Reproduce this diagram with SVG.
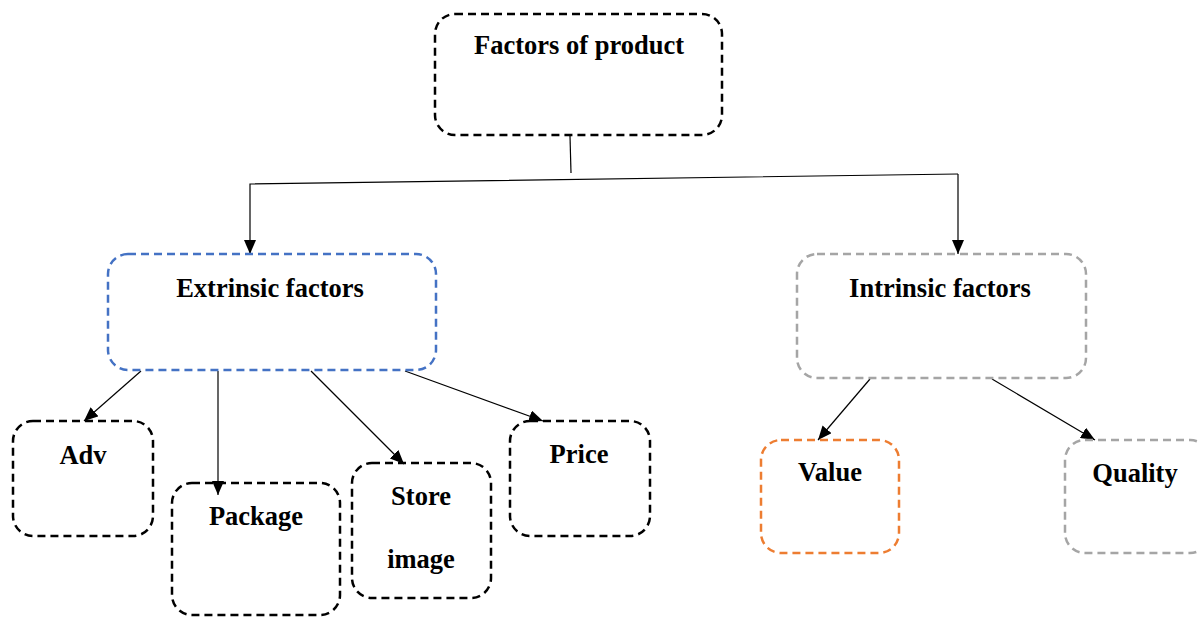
<svg xmlns="http://www.w3.org/2000/svg" width="1198" height="617" viewBox="0 0 1198 617">
<style>
.box{fill:none;stroke-width:2.5;stroke-dasharray:8 5}
.k{stroke:#000}
.b{stroke:#4472C4}
.g{stroke:#A5A5A5}
.o{stroke:#ED7D31}
.t{font-family:"Liberation Serif","Times New Roman",serif;font-weight:bold;font-size:26.5px;fill:#000;text-anchor:middle}
.c{stroke:#000;stroke-width:1.2;fill:none}
</style>
<defs>
<marker id="ah" viewBox="0 0 14 12" refX="14" refY="6" markerWidth="14" markerHeight="12" markerUnits="userSpaceOnUse" orient="auto">
<path d="M0,0 L14,6 L0,12 z" fill="#000"/>
</marker>
</defs>
<rect width="1198" height="617" fill="#fff"/>
<g id="connectors">
<path class="c" d="M570,136 L571,173"/>
<path class="c" d="M958,174 L250,184 L250,254" marker-end="url(#ah)"/>
<path class="c" d="M958,174 L958,254" marker-end="url(#ah)"/>
<path class="c" d="M141,371 L84,421" marker-end="url(#ah)"/>
<path class="c" d="M218,371 L218,495" marker-end="url(#ah)"/>
<path class="c" d="M311,371 L404,464" marker-end="url(#ah)"/>
<path class="c" d="M405,371 L543,421" marker-end="url(#ah)"/>
<path class="c" d="M870,379 L818,440" marker-end="url(#ah)"/>
<path class="c" d="M992,379 L1095,440" marker-end="url(#ah)"/>
</g>
<g id="factors">
<rect class="box k" x="435" y="14" width="287" height="121" rx="20"/>
<text class="t" x="579" y="54">Factors of product</text>
</g>
<g id="extrinsic">
<rect class="box b" x="108" y="254" width="328" height="116" rx="20"/>
<text class="t" x="270" y="297">Extrinsic factors</text>
</g>
<g id="intrinsic">
<rect class="box g" x="797" y="254" width="289" height="124" rx="20"/>
<text class="t" x="940" y="297">Intrinsic factors</text>
</g>
<g id="adv">
<rect class="box k" x="13" y="421" width="140" height="115" rx="20"/>
<text class="t" x="83" y="464">Adv</text>
</g>
<g id="package">
<rect class="box k" x="172" y="483" width="168" height="132" rx="20"/>
<text class="t" x="256" y="525">Package</text>
</g>
<g id="store">
<rect class="box k" x="352" y="463" width="139" height="135" rx="20"/>
<text class="t" x="421" y="505">Store</text>
<text class="t" x="421" y="568">image</text>
</g>
<g id="price">
<rect class="box k" x="510" y="421" width="140" height="115" rx="20"/>
<text class="t" x="579" y="463">Price</text>
</g>
<g id="value">
<rect class="box o" x="761" y="440" width="138" height="113" rx="20"/>
<text class="t" x="830" y="481">Value</text>
</g>
<g id="quality">
<rect class="box g" x="1065" y="440" width="145" height="113" rx="20"/>
<text class="t" x="1135" y="482">Quality</text>
</g>
</svg>
